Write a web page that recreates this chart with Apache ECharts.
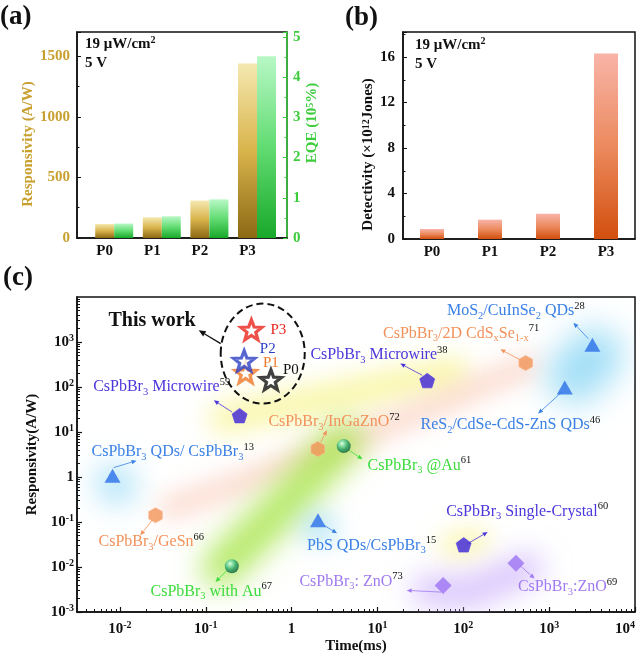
<!DOCTYPE html>
<html>
<head>
<meta charset="utf-8">
<script src="https://cdn.jsdelivr.net/npm/echarts@6.0.0/dist/echarts.min.js"></script>
<style>
html,body{margin:0;padding:0;background:#ffffff;}
#chart{width:641px;height:656px;}
</style>
</head>
<body>
<div id="chart"></div>
<script>
// ================= DATA =================
// Panels (a) and (b)
const categories = ['P0', 'P1', 'P2', 'P3'];
const responsivityAW = [116, 171, 309, 1440];     // A/W
const eqe1e5 = [0.36, 0.54, 0.96, 4.52];          // 10^5 %
const detectivity1e12 = [0.88, 1.70, 2.22, 16.3]; // 10^12 Jones

// Panel (c) tick labels
const cXTicks = [0.01, 0.1, 1, 10, 100, 1000, 10000];
const cYTicks = [0.001, 0.01, 0.1, 1, 10, 100, 1000];

// Panel (c): this work
const starNames = ['P0', 'P1', 'P2', 'P3'];
const starTime = [0.574, 0.291, 0.280, 0.340];   // ms
const starResp = [144, 207, 382, 1866];          // A/W

// Panel (c): literature (triangles)
const triNames = ['CsPbBr{s|3} QDs/ CsPbBr{s|3}', 'PbS QDs/CsPbBr{s|3}', 'MoS{s|2}/CuInSe{s|2} QDs', 'ReS{s|2}/CdSe-CdS-ZnS QDs'];
const triRefs = [13, 15, 28, 46];
const triTime = [0.0082, 2.03, 3190, 1520];
const triResp = [1.07, 0.109, 867, 97];

// hexagons
const hexNames = ['CsPbBr{s|3}/GeSn', 'CsPbBr{s|3}/InGaZnO', 'CsPbBr{s|3}/2D CdS{s|x}Se{s|1-x}'];
const hexRefs = [66, 72, 71];
const hexTime = [0.026, 2.02, 533];
const hexResp = [0.141, 4.19, 341];

// spheres
const sphNames = ['CsPbBr{s|3} with Au', 'CsPbBr{s|3} @Au'];
const sphRefs = [67, 61];
const sphTime = [0.201, 4.04];
const sphResp = [0.0104, 4.86];

// pentagons
const penNames = ['CsPbBr{s|3} Microwire', 'CsPbBr{s|3} Microwire', 'CsPbBr{s|3} Single-Crystal'];
const penRefs = [59, 38, 60];
const penTime = [0.248, 38.0, 101];
const penResp = [23.1, 139, 0.0311];

// diamonds
const diaNames = ['CsPbBr{s|3}: ZnO', 'CsPbBr{s|3}:ZnO'];
const diaRefs = [73, 69];
const diaTime = [58.2, 410];
const diaResp = [0.0039, 0.0121];

// Decorative glow paths (data coordinates)
const glowPaths = [
  [[0.0085, 0.75], [0.0095, 0.62]],
  [[0.16, 20], [3.6, 65], [79, 212]],
  [[0.037, 0.2], [2.0, 3.0], [590, 300]],
  [[0.15, 0.0094], [0.8, 0.23], [4.1, 6.5]],
  [[1.9, 0.08], [2.3, 0.068]],
  [[2000, 180], [3400, 500]],
  [[73, 0.030], [147, 0.039]],
  [[38, 0.0030], [118, 0.0027], [560, 0.0094]]
];

// ================= LAYOUT / STYLE =================
const FONT = '"Liberation Serif","Times New Roman",serif';
const INK = '#111111';
const GOLD = '#c9a030';
const GREENAX = '#3ccc3c';
const COL = { blue: '#3a80e6', orange: '#f2915a', green: '#3bdc3b', purple: '#4b36dc', lav: '#a07af0' };
const starColors = ['#111111', '#f07828', '#2c3fc4', '#e8261c'];

// label layout: [labelDx, labelDy, arrowStartDx, arrowStartDy, arrowEndDx, arrowEndDy] (px from marker)
const triLayout = [[-21, -23.5, 1, -8, 24, -15], [-11, 25, 6, 5, 19, 13], [-145.5, -33.5, -4, -6, -19, -22], [-144.3, 37.7, -3, 4.5, -26.7, 26]];
const hexLayout = [[-57, 26.5, -3, 4.5, -15.3, 20], [-49.4, -27.2, 3, -7, 9, -18.7], [-142.7, -29.7, -6, -3.4, -25.3, -13.7]];
const sphLayout = [[-81.3, 25.5, -4.7, 4, -16.3, 15.7], [23.8, 19.2, 5.5, 4.2, 18.8, 13.2]];
const penLayout = [[-146.5, -28.8, -7.5, -3.6, -25.8, -15.3], [-116.8, -25.3, -5, -5.3, -27, -17], [-17.5, -33.5, 4, -1.2, 24, -12.8]];
const diaLayout = [[-143.7, -4, -2, 6.7, -36.4, 5], [2, 23.5, 3.7, 2, 18.7, 15.3]];
const starLayout = [[12, -10.3], [17.3, -10], [15.7, -11.3], [19, 0]];

const glowLook = [
  { w: 34, blur: 30, color: 'rgba(140,215,245,0.80)' },
  { w: 28, blur: 26, color: 'rgba(247,242,130,0.72)' },
  { w: 20, blur: 24, color: 'rgba(250,196,178,0.70)' },
  { w: 38, blur: 30, color: 'rgba(160,228,60,0.80)' },
  { w: 26, blur: 26, color: 'rgba(140,215,245,0.75)' },
  { w: 56, blur: 32, color: 'rgba(140,215,245,0.80)' },
  { w: 22, blur: 24, color: 'rgba(247,242,140,0.75)' },
  { w: 30, blur: 28, color: 'rgba(195,165,250,0.65)' }
];
const ELL = { dx: 9.7, dy: -7.2, rx: 42, ry: 50 };

// ================= BUILD =================
const groups = [
  { names: triNames, refs: triRefs, time: triTime, resp: triResp, layout: triLayout, color: COL.blue },
  { names: hexNames, refs: hexRefs, time: hexTime, resp: hexResp, layout: hexLayout, color: COL.orange },
  { names: sphNames, refs: sphRefs, time: sphTime, resp: sphResp, layout: sphLayout, color: COL.green },
  { names: penNames, refs: penRefs, time: penTime, resp: penResp, layout: penLayout, color: COL.purple },
  { names: diaNames, refs: diaRefs, time: diaTime, resp: diaResp, layout: diaLayout, color: COL.lav }
];
const annData = [], annMeta = [];
groups.forEach(g => g.names.forEach((n, i) => {
  annData.push([g.time[i], g.resp[i]]);
  annMeta.push({ text: n + '{r|' + g.refs[i] + '}', color: g.color, L: g.layout[i], size: 16 });
}));
starNames.forEach((n, i) => {
  annData.push([starTime[i], starResp[i]]);
  annMeta.push({ text: n, color: starColors[i], L: starLayout[i], size: 15 });
});

function richFor(color) {
  return {
    s: { fontSize: 10.5, fontFamily: FONT, fill: color, verticalAlign: 'bottom', lineHeight: 12 },
    r: { fontSize: 10.5, fontFamily: FONT, fill: INK, verticalAlign: 'top', lineHeight: 12 }
  };
}
function arrow(x1, y1, x2, y2, color, lw, hl, hw) {
  const dx = x2 - x1, dy = y2 - y1, len = Math.hypot(dx, dy) || 1;
  const ux = dx / len, uy = dy / len;
  hl = hl || 5; hw = hw || 2.2;
  const bx = x2 - ux * hl, by = y2 - uy * hl;
  return [
    { type: 'line', shape: { x1: x1, y1: y1, x2: bx, y2: by }, style: { stroke: color, lineWidth: lw || 0.8 } },
    { type: 'polygon', shape: { points: [[x2, y2], [bx - uy * hw, by + ux * hw], [bx + uy * hw, by - ux * hw]] }, style: { fill: color } }
  ];
}
function gmean(arr) { return Math.pow(10, arr.reduce((a, v) => a + Math.log10(v), 0) / arr.length); }
function isPow10(v) { const e = Math.log10(v); return Math.abs(e - Math.round(e)) < 1e-6; }
function pow10Label(v) {
  if (!isPow10(v)) return '';
  const e = Math.round(Math.log10(v));
  return e === 0 ? '1' : '10{s|' + e + '}';
}
const minorX = [], minorY = [];
for (let e = -3; e < 4; e++) for (let k = 2; k <= 9; k++) minorX.push(+(k * Math.pow(10, e)).toPrecision(6));
for (let e = -3; e < 4; e++) for (let k = 2; k <= 9; k++) minorY.push(+(k * Math.pow(10, e)).toPrecision(6));

const boldLabel = { fontFamily: FONT, fontWeight: 'bold', fontSize: 15, color: INK };
const supBold = (color) => ({ s: { fontSize: 10, fontFamily: FONT, fontWeight: 'bold', color: color, verticalAlign: 'top', lineHeight: 10 } });
const axisLineInk = { show: true, onZero: false, lineStyle: { color: INK, width: 1.5 } };
const plainNum = v => String(Math.round(v * 1000) / 1000);

const barGrad = (c0, c1, c2) => ({ type: 'linear', x: 0, y: 0, x2: 0, y2: 1, colorStops: [{ offset: 0, color: c0 }, { offset: 0.5, color: c1 }, { offset: 1, color: c2 }] });

const SYM = {
  hex: 'path://M0,-100L86.6,-50L86.6,50L0,100L-86.6,50L-86.6,-50Z',
  pen: 'path://M0,-100L95.1,-30.9L58.8,80.9L-58.8,80.9L-95.1,-30.9Z',
  star: 'path://M0,-100L24.7,-34L95.1,-30.9L39.9,13L58.8,80.9L0,42L-58.8,80.9L-39.9,13L-95.1,-30.9L-24.7,-34Z'
};
const OFF = 4000;
const C2 = { xAxisIndex: 2, yAxisIndex: 3, coordinateSystem: 'cartesian2d' };

const option = {
  animation: false,
  backgroundColor: '#ffffff',
  textStyle: { fontFamily: FONT },
  grid: [
    { left: 77, top: 32, width: 210, height: 206, show: true, borderColor: INK, borderWidth: 1.5, outerBoundsMode: 'none' },
    { left: 403, top: 32, width: 232, height: 207, show: true, borderColor: INK, borderWidth: 1.5, outerBoundsMode: 'none' },
    { left: 77, top: 297, width: 558, height: 315, show: true, borderColor: INK, borderWidth: 1.5, outerBoundsMode: 'none' }
  ],
  xAxis: [
    {
      gridIndex: 0, type: 'value', min: -0.582, max: 3.83,
      axisLine: axisLineInk, axisTick: { show: false }, splitLine: { show: false },
      axisLabel: Object.assign({ customValues: [0, 1, 2, 3], margin: 6,
        formatter: v => (Math.abs(v - Math.round(v)) < 1e-6 && categories[Math.round(v)]) || '' }, boldLabel)
    },
    {
      gridIndex: 1, type: 'category', data: categories,
      axisLine: axisLineInk, axisTick: { show: false },
      axisLabel: Object.assign({ margin: 6 }, boldLabel)
    },
    {
      gridIndex: 2, type: 'log', logBase: 10, min: Math.pow(10, -2.5), max: 10000,
      axisLine: axisLineInk,
      axisTick: { show: true, inside: true, length: 5, customValues: cXTicks, lineStyle: { color: INK, width: 1.2 } },
      minorTick: { show: false }, splitLine: { show: false },
      axisLabel: Object.assign({ customValues: cXTicks, formatter: pow10Label, margin: 8, lineHeight: 18, alignMaxLabel: 'right', rich: supBold(INK) }, boldLabel),
      name: 'Time(ms)', nameLocation: 'middle', nameGap: 25,
      nameTextStyle: { fontFamily: FONT, fontWeight: 'bold', fontSize: 15, color: INK }
    },
    {
      gridIndex: 2, type: 'log', logBase: 10, min: Math.pow(10, -2.5), max: 10000, position: 'bottom',
      axisLine: { show: false }, axisLabel: { show: false }, splitLine: { show: false },
      axisTick: { show: true, inside: true, length: 3, customValues: minorX, lineStyle: { color: INK, width: 1 } }
    }
  ],
  yAxis: [
    {
      gridIndex: 0, type: 'value', position: 'left', min: 0, max: 1700, interval: 500,
      axisLine: axisLineInk,
      axisTick: { show: true, inside: true, length: 4, lineStyle: { color: INK } },
      minorTick: { show: true, splitNumber: 2, length: 2.5, lineStyle: { color: INK } },
      splitLine: { show: false },
      axisLabel: { color: GOLD, fontFamily: FONT, fontWeight: 'bold', fontSize: 15, margin: 7, showMaxLabel: false, formatter: plainNum },
      name: 'Responsivity (A/W)', nameLocation: 'middle', nameRotate: 90, nameGap: 37,
      nameTextStyle: { color: GOLD, fontFamily: FONT, fontWeight: 'bold', fontSize: 15, padding: [0, 18, 0, 0] }
    },
    {
      gridIndex: 0, type: 'value', position: 'right', min: 0, max: 5.12, interval: 1,
      axisLine: { show: true, onZero: false, lineStyle: { color: GREENAX, width: 1.5 } },
      axisTick: { show: true, inside: true, length: 4, lineStyle: { color: GREENAX } },
      minorTick: { show: true, splitNumber: 2, length: 2.5, lineStyle: { color: GREENAX } },
      splitLine: { show: false },
      axisLabel: { color: GREENAX, fontFamily: FONT, fontWeight: 'bold', fontSize: 15, margin: 6, showMaxLabel: false, formatter: plainNum },
      name: 'EQE (10{s|5}%)', nameLocation: 'middle', nameRotate: 90, nameGap: 18,
      nameTextStyle: { color: GREENAX, fontFamily: FONT, fontWeight: 'bold', fontSize: 15, padding: [0, 0, 0, 24], rich: supBold(GREENAX) }
    },
    {
      gridIndex: 1, type: 'value', min: 0, max: 18.2, interval: 4,
      axisLine: axisLineInk,
      axisTick: { show: true, inside: true, length: 4, lineStyle: { color: INK } },
      minorTick: { show: true, splitNumber: 2, length: 2.5, lineStyle: { color: INK } },
      splitLine: { show: false },
      axisLabel: Object.assign({ margin: 8, showMaxLabel: false, formatter: plainNum }, boldLabel),
      name: 'Detectivity (×10{s|12}Jones)', nameLocation: 'middle', nameRotate: 90, nameGap: 27,
      nameTextStyle: { color: INK, fontFamily: FONT, fontWeight: 'bold', fontSize: 15, padding: [0, 38, 0, 0], rich: supBold(INK) }
    },
    {
      gridIndex: 2, type: 'log', logBase: 10, min: 0.001, max: 10000,
      axisLine: axisLineInk,
      axisTick: { show: true, inside: true, length: 5, customValues: cYTicks, lineStyle: { color: INK, width: 1.2 } },
      minorTick: { show: false }, splitLine: { show: false },
      axisLabel: Object.assign({ customValues: cYTicks, formatter: pow10Label, margin: 3, lineHeight: 18, rich: supBold(INK) }, boldLabel),
      name: 'Responsivity(A/W)', nameLocation: 'middle', nameRotate: 90, nameGap: 33,
      nameTextStyle: { color: INK, fontFamily: FONT, fontWeight: 'bold', fontSize: 15 }
    },
    {
      gridIndex: 2, type: 'log', logBase: 10, min: 0.001, max: 10000, position: 'left',
      axisLine: { show: false }, axisLabel: { show: false }, splitLine: { show: false },
      axisTick: { show: true, inside: true, length: 3, customValues: minorY, lineStyle: { color: INK, width: 1 } }
    }
  ],
  graphic: [
    { type: 'text', x: 0, y: 17, style: { text: '(a)', fontSize: 27, fontWeight: 'bold', fontFamily: FONT, fill: INK, align: 'left', verticalAlign: 'middle' } },
    { type: 'text', x: 345, y: 18, style: { text: '(b)', fontSize: 27, fontWeight: 'bold', fontFamily: FONT, fill: INK, align: 'left', verticalAlign: 'middle' } },
    { type: 'text', x: 3, y: 278, style: { text: '(c)', fontSize: 27, fontWeight: 'bold', fontFamily: FONT, fill: INK, align: 'left', verticalAlign: 'middle' } },
    { type: 'text', x: 85, y: 44, style: { text: '19 μW/cm{s|2}', fontSize: 15, fontWeight: 'bold', fontFamily: FONT, fill: INK, align: 'left', verticalAlign: 'middle', lineHeight: 18,
      rich: { s: { fontSize: 10, fontWeight: 'bold', fontFamily: FONT, fill: INK, verticalAlign: 'top', lineHeight: 10 } } } },
    { type: 'text', x: 85, y: 63, style: { text: '5 V', fontSize: 15, fontWeight: 'bold', fontFamily: FONT, fill: INK, align: 'left', verticalAlign: 'middle' } },
    { type: 'text', x: 415, y: 45, style: { text: '19 μW/cm{s|2}', fontSize: 15, fontWeight: 'bold', fontFamily: FONT, fill: INK, align: 'left', verticalAlign: 'middle', lineHeight: 18,
      rich: { s: { fontSize: 10, fontWeight: 'bold', fontFamily: FONT, fill: INK, verticalAlign: 'top', lineHeight: 10 } } } },
    { type: 'text', x: 415, y: 64, style: { text: '5 V', fontSize: 15, fontWeight: 'bold', fontFamily: FONT, fill: INK, align: 'left', verticalAlign: 'middle' } }
  ],
  series: [
    // ---- (a)
    { type: 'bar', xAxisIndex: 0, yAxisIndex: 0, barWidth: 19, barGap: '0%', data: [], silent: true },
    { type: 'bar', name: 'Responsivity', xAxisIndex: 0, yAxisIndex: 0, barWidth: 19, barGap: '0%', silent: true,
      data: responsivityAW.map((v, i) => [i, v]),
      itemStyle: { color: barGrad('#f5e8b0', '#d9b44c', '#8c6814') } },
    { type: 'bar', name: 'EQE', xAxisIndex: 0, yAxisIndex: 1, barWidth: 19, barGap: '0%', silent: true,
      data: eqe1e5.map((v, i) => [i, v]),
      itemStyle: { color: barGrad('#b8f8c6', '#62dc72', '#18a82a') } },
    // ---- (b)
    { type: 'bar', name: 'Detectivity', xAxisIndex: 1, yAxisIndex: 2, barWidth: 24, silent: true,
      data: detectivity1e12,
      itemStyle: { color: barGrad('#f8b4a8', '#ec8a5e', '#d24f0e') } },
    // ---- (c) glows
    Object.assign({ type: 'custom', silent: true, z: 1, clip: true,
      data: glowPaths.map(p => p[0]),
      renderItem: (params, api) => {
        const st = glowLook[params.dataIndex];
        const pts = glowPaths[params.dataIndex].map(p => { const c = api.coord(p); return [c[0] - OFF, c[1]]; });
        return { type: 'polyline', silent: true, shape: { points: pts },
          style: { stroke: '#000', fill: 'none', lineWidth: st.w, lineCap: 'round', lineJoin: 'round',
            shadowBlur: st.blur, shadowColor: st.color, shadowOffsetX: OFF, shadowOffsetY: 0 } };
      } }, C2),
    // ---- (c) this-work ellipse
    Object.assign({ type: 'custom', silent: true, z: 3, clip: false,
      data: [[gmean(starTime), gmean(starResp)]],
      renderItem: (params, api) => {
        const c = api.coord([api.value(0), api.value(1)]);
        const cx = c[0] + ELL.dx, cy = c[1] + ELL.dy;
        return { type: 'group', children: [
          { type: 'ellipse', shape: { cx: cx, cy: cy, rx: ELL.rx, ry: ELL.ry }, style: { fill: 'none', stroke: INK, lineWidth: 2, lineDash: [7, 4] } }
        ].concat(arrow(cx - 42, cy - 10, cx - 64, cy - 23.3, INK, 1.3, 7, 3)).concat([
          { type: 'text', x: cx - 67, y: cy - 32.5, style: { text: 'This work', fontSize: 20, fontWeight: 'bold', fontFamily: FONT, fill: INK, align: 'right', verticalAlign: 'middle' } }
        ]) };
      } }, C2),
    // ---- (c) labels + arrows
    Object.assign({ type: 'custom', silent: true, z: 4, clip: false,
      data: annData,
      renderItem: (params, api) => {
        const m = annMeta[params.dataIndex];
        const p = api.coord([api.value(0), api.value(1)]);
        const L = m.L;
        let children = [];
        if (L.length >= 6) children = children.concat(arrow(p[0] + L[2], p[1] + L[3], p[0] + L[4], p[1] + L[5], m.color, 0.8));
        children.push({ type: 'text', x: p[0] + L[0], y: p[1] + L[1],
          style: { text: m.text, fill: m.color, fontSize: m.size, fontFamily: FONT, align: 'left', verticalAlign: 'middle', lineHeight: 21, rich: richFor(m.color) } });
        return { type: 'group', children: children };
      } }, C2),
    // ---- (c) markers
    Object.assign({ type: 'scatter', name: 'triangles', silent: true, z: 6, symbol: 'triangle', symbolSize: [16, 14],
      itemStyle: { color: '#2a6fe8' }, data: triTime.map((t, i) => [t, triResp[i]]) }, C2),
    Object.assign({ type: 'scatter', name: 'hexagons', silent: true, z: 6, symbol: SYM.hex, symbolSize: [13.5, 15],
      itemStyle: { color: '#f39458', borderColor: '#f8b48a', borderWidth: 0.8 }, data: hexTime.map((t, i) => [t, hexResp[i]]) }, C2),
    Object.assign({ type: 'scatter', name: 'spheres', silent: true, z: 6, symbol: 'circle', symbolSize: 14,
      itemStyle: { color: { type: 'radial', x: 0.38, y: 0.32, r: 0.72, colorStops: [
        { offset: 0, color: '#f4fff8' }, { offset: 0.22, color: '#86e6b8' }, { offset: 0.6, color: '#1e9a62' }, { offset: 1, color: '#0a5636' }] } },
      data: sphTime.map((t, i) => [t, sphResp[i]]) }, C2),
    Object.assign({ type: 'scatter', name: 'pentagons', silent: true, z: 6, symbol: SYM.pen, symbolSize: [15, 14.5],
      itemStyle: { color: '#3b21d6', borderColor: '#5a44e6', borderWidth: 0.8 }, data: penTime.map((t, i) => [t, penResp[i]]) }, C2),
    Object.assign({ type: 'scatter', name: 'diamonds', silent: true, z: 6, symbol: 'diamond', symbolSize: [17, 17],
      itemStyle: { color: '#9c74f2' }, data: diaTime.map((t, i) => [t, diaResp[i]]) }, C2),
    Object.assign({ type: 'scatter', name: 'this work', silent: true, z: 7, symbol: SYM.star, symbolSize: [21, 20],
      data: starTime.map((t, i) => ({ value: [t, starResp[i]], itemStyle: { color: '#ffffff', borderColor: starColors[i], borderWidth: 3.2 } })) }, C2)
  ]
};

const chart = echarts.init(document.getElementById('chart'), null, { renderer: 'canvas', width: 641, height: 656 });
chart.setOption(option);
</script>
</body>
</html>
